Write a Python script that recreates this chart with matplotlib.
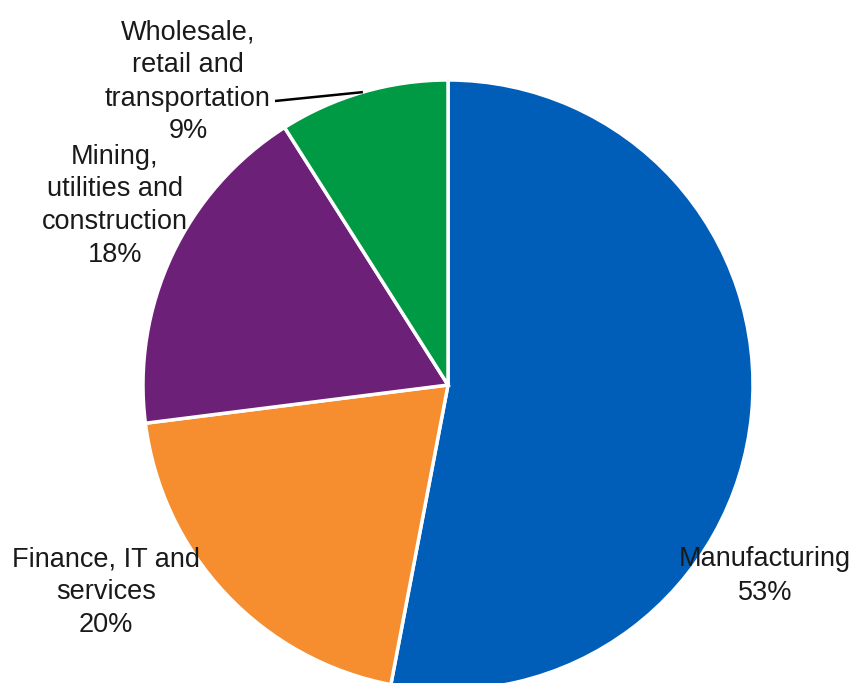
import numpy as np
import matplotlib.pyplot as plt

sectors = ["Manufacturing", "Finance, IT and\nservices", "Mining,\nutilities and\nconstruction",
           "Wholesale,\nretail and\ntransportation"]
shares = [53, 20, 18, 9]
colors = ["#005EB8", "#F68D2E", "#6D2077", "#009A44"]

W, H = 854, 683
# label anchor positions in pixels, measured from top-left
label_pos = [(765, 576), (106, 592), (115, 206), (188, 82)]

fig = plt.figure(figsize=(W / 100, H / 100), dpi=100)
ax = fig.add_axes([0, 0, 1, 1])

cx, cy, r = 448, H - 385, 305
wedges, _ = ax.pie(shares, colors=colors, startangle=90, counterclock=False,
                   center=(cx, cy), radius=r, frame=True,
                   wedgeprops=dict(edgecolor="white", linewidth=2.5))
ax.set_xlim(0, W)
ax.set_ylim(0, H)
ax.set_aspect("equal")
ax.set_axis_off()

for name, share, (x, y) in zip(sectors, shares, label_pos):
    ax.text(x, H - y, f"{name}\n{share}%", ha="center", va="center", fontsize=19.5,
            family="Liberation Sans", color="#1a1a1a", linespacing=1.35)

# leader line for the small wedge
w = wedges[3]
mid = np.deg2rad((w.theta1 + w.theta2) / 2)
ex, ey = cx + r * np.cos(mid), cy + r * np.sin(mid)
ax.plot([275, ex], [H - 101, ey], color="black", lw=1.8, solid_capstyle="butt")

fig.savefig("out.png", dpi=100)
